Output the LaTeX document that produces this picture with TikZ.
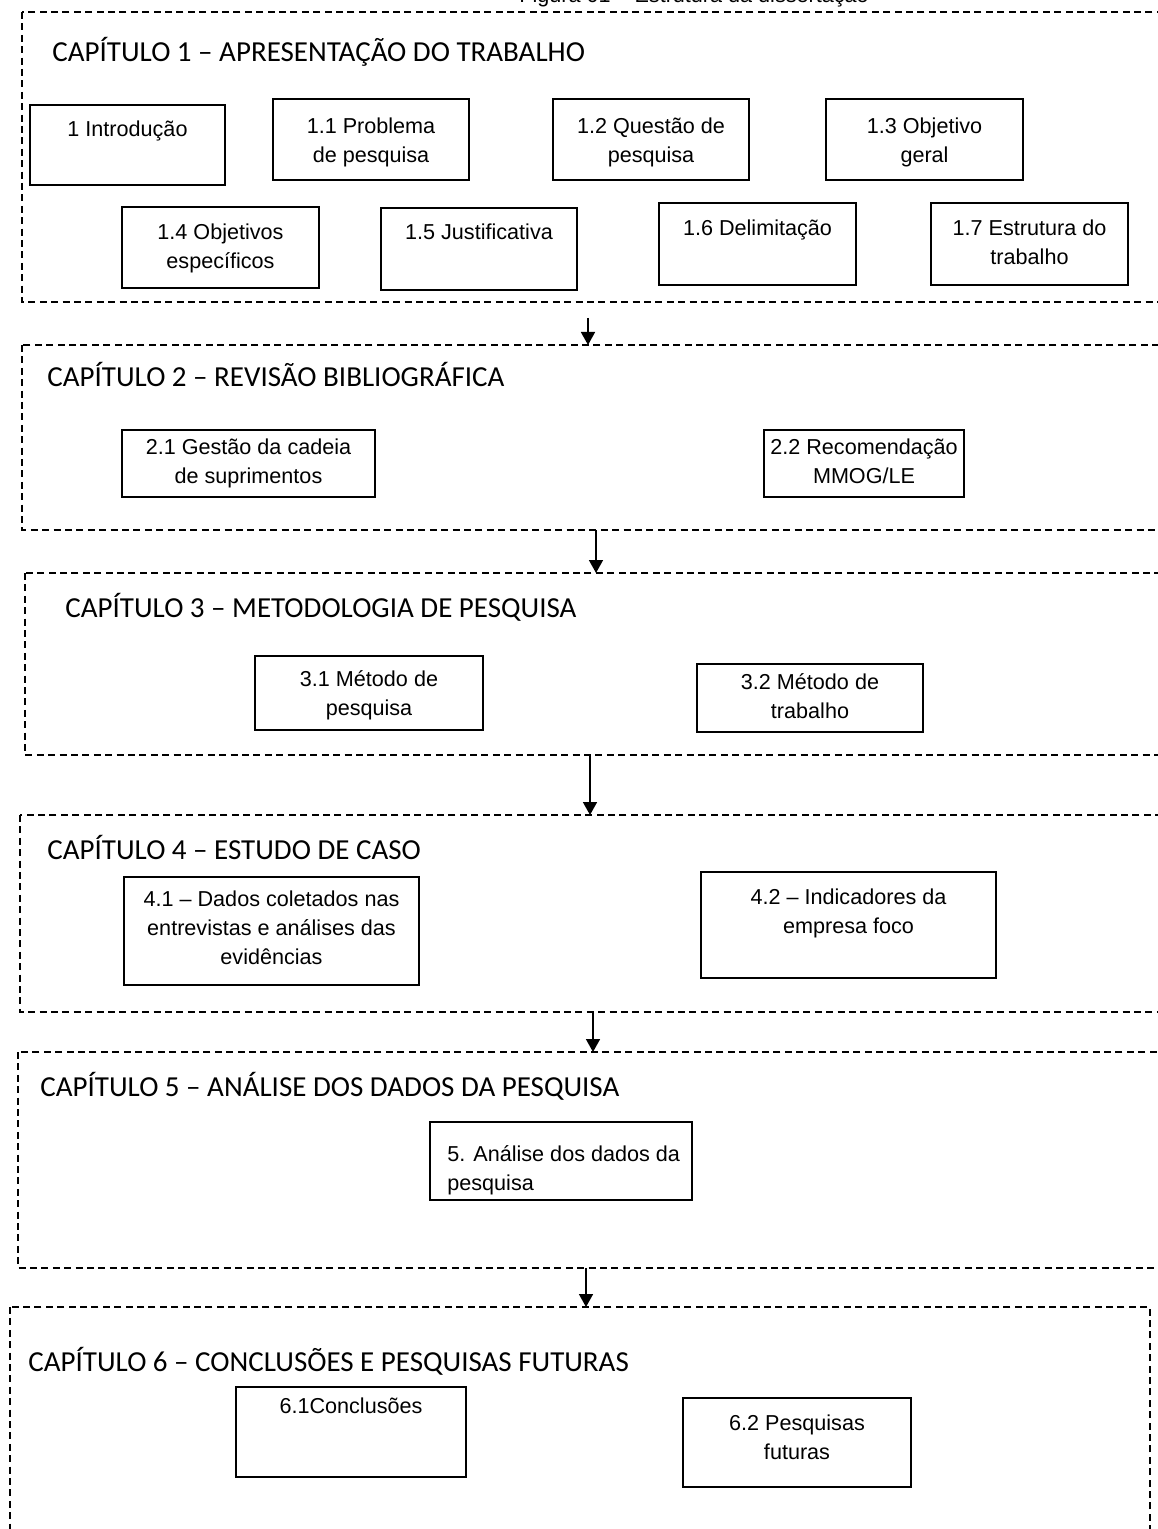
\documentclass[tikz,border=0pt]{standalone}
\usepackage{fontspec}
\setmainfont{Liberation Sans}
\newfontfamily\capfont{Carlito}
\usetikzlibrary{arrows.meta,positioning}

\tikzset{
 chapframe/.style={draw,line width=0.7pt,dash pattern=on 3.5pt off 2.2pt},
 secbox/.style={draw,line width=1pt},
 sectxt/.style={font=\fontsize{10.8}{14.5}\selectfont,align=center,anchor=north,inner sep=0pt},
 chaptxt/.style={font=\capfont\fontsize{14.5}{17}\selectfont,anchor=base west,inner sep=0pt},
 flow/.style={-{Triangle[length=6.5pt,width=7pt]},line width=0.8pt}
}

\begin{document}
\begin{tikzpicture}[x=0.5pt,y=-0.5pt]
\useasboundingbox (0,0) rectangle (1157,1529);
% title, cut by the page edge
\node[font=\fontsize{10.8}{13}\selectfont,anchor=base,inner sep=0pt] (fig) at (694,3) {Figura 01 – Estrutura da dissertação};
% chapter frames
\foreach \xa/\ya/\xb/\yb in {22/12/1175/302,22/345/1175/530,25/573/1175/755,20/815/1175/1012,18/1052/1175/1268,10/1307/1150/1545}{
 \draw[chapframe] (\xa,\ya) rectangle (\xb,\yb);}
% chapter titles
\foreach \x/\y/\nm/\txt in {52/62/cap1/{CAPÍTULO 1 – APRESENTAÇÃO DO TRABALHO},
 47/387/cap2/{CAPÍTULO 2 – REVISÃO BIBLIOGRÁFICA},
 65/617/cap3/{CAPÍTULO 3 – METODOLOGIA DE PESQUISA},
 47/859/cap4/{CAPÍTULO 4 – ESTUDO DE CASO},
 40/1096/cap5/{CAPÍTULO 5 – ANÁLISE DOS DADOS DA PESQUISA},
 28/1371/cap6/{CAPÍTULO 6 – CONCLUSÕES E PESQUISAS FUTURAS}}{
 \node[chaptxt] (\nm) at (\x,\y) {\txt};}
% section boxes
\foreach \xa/\ya/\xb/\yb/\ty/\nm/\txt in {
 30/105/225/185/128/intro/{1 Introdução},
 273/99/469/180/125/prob/{1.1 Problema\\de pesquisa},
 553/99/749/180/125/quest/{1.2 Questão de\\pesquisa},
 826/99/1023/180/125/objg/{1.3 Objetivo\\geral},
 122/207/319/288/231/obje/{1.4 Objetivos\\específicos},
 381/208/577/290/231/just/{1.5 Justificativa},
 659/203/856/285/227/delim/{1.6 Delimitação},
 931/203/1128/285/227/estr/{1.7 Estrutura do\\trabalho},
 122/430/375/497/446/gcs/{2.1 Gestão da cadeia\\de suprimentos},
 764/430/964/497/446/mmog/{2.2 Recomendação\\MMOG/LE},
 255/656/483/730/678/mpesq/{3.1 Método de\\pesquisa},
 697/664/923/732/681/mtrab/{3.2 Método de\\trabalho},
 124/877/419/985/898/dados/{4.1 – Dados coletados nas\\entrevistas e análises das\\evidências},
 701/872/996/978/896/indic/{4.2 – Indicadores da\\empresa foco},
 236/1387/466/1477/1405/concl/{6.1Conclusões},
 683/1398/911/1487/1422/fut/{6.2 Pesquisas\\futuras}}{
 \draw[secbox] (\xa,\ya) rectangle (\xb,\yb);
 \node[sectxt] (\nm) at ({(\xa+\xb)/2},\ty-8) {\txt};}
\draw[secbox] (430,1122) rectangle (692,1200);
\node[sectxt,align=left,anchor=north west] (anal) at (447,1145) {5. Análise dos dados da\\pesquisa};
% links between chapters
\coordinate (o1) at (588,318); \coordinate (i2) at (588,345);
\coordinate (o2) at (596,530); \coordinate (i3) at (596,573);
\coordinate (o3) at (590,755); \coordinate (i4) at (590,815);
\coordinate (o4) at (593,1012); \coordinate (i5) at (593,1052);
\coordinate (o5) at (586,1268); \coordinate (i6) at (586,1307);
\foreach \k in {1,...,5}{
 \pgfmathtruncatemacro{\n}{\k+1}
 \draw[flow] (o\k) -- (i\n);}
\end{tikzpicture}
\end{document}
